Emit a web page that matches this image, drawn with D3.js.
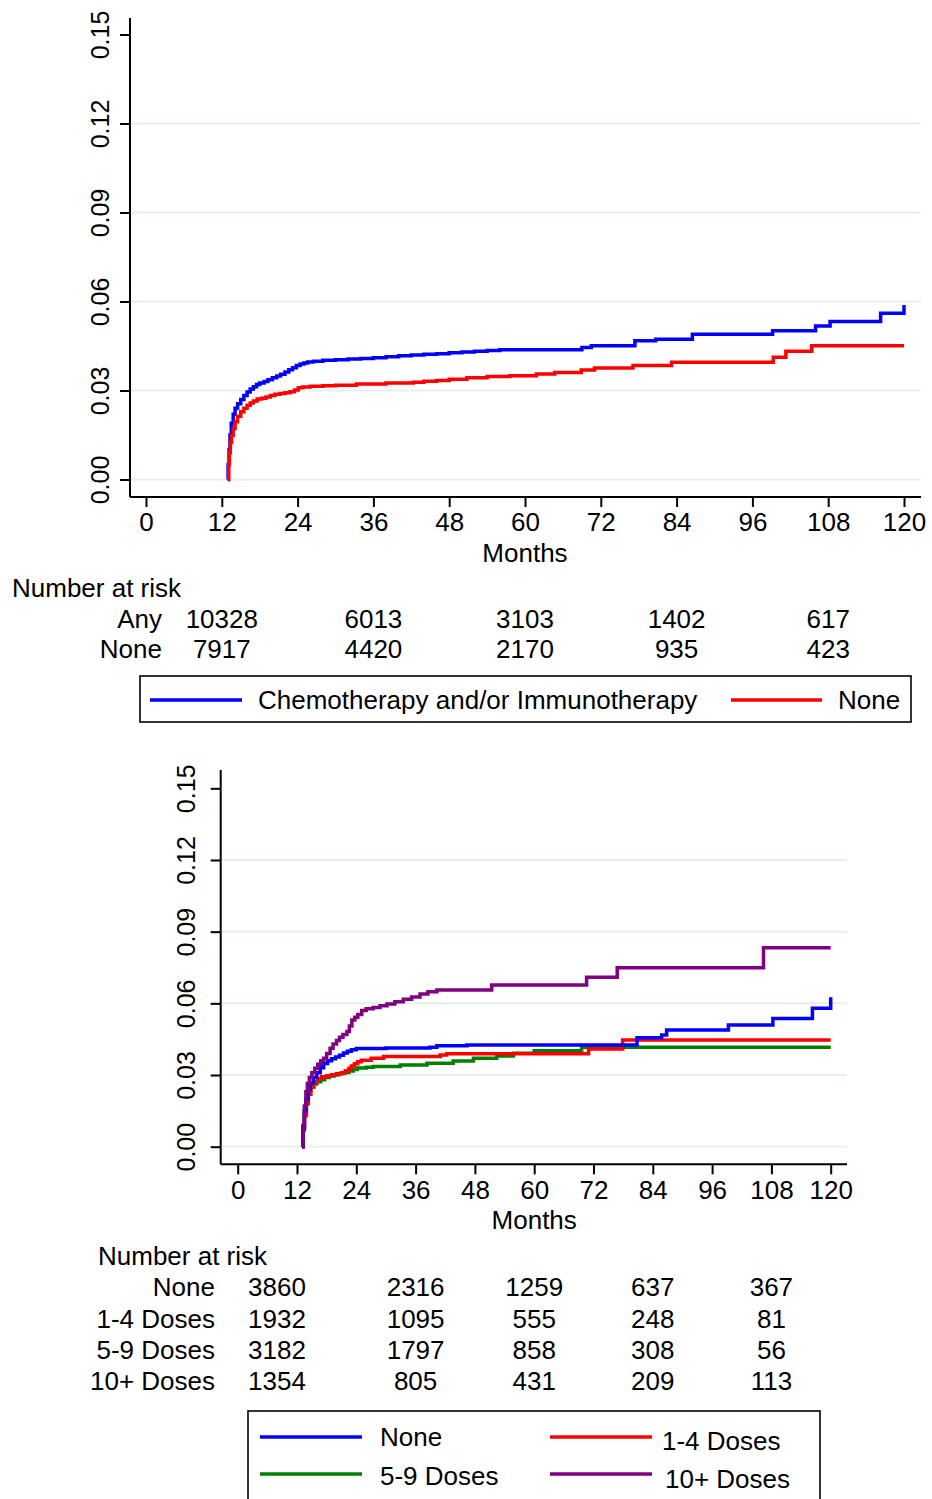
<!DOCTYPE html>
<html>
<head>
<meta charset="utf-8">
<script src="https://cdn.jsdelivr.net/npm/d3@7"></script>
<style>
  body { margin: 0; background: #fff; }
  svg text { font-family: "Liberation Sans", Arial, Helvetica, sans-serif; fill: #000; }
</style>
</head>
<body>
<div id="viz"></div>
<script>
// ---- data ----
var yTicks = [0, 0.03, 0.06, 0.09, 0.12, 0.15];
var xTicks = [0, 12, 24, 36, 48, 60, 72, 84, 96, 108, 120];
var riskMonths = [12, 36, 60, 84, 108];

// panel A : any treatment vs none
var anyCurve = [[12.9,0],[13.0,0.005],[13.15,0.01],[13.3,0.015],[13.5,0.019],[13.8,0.022],[14.1,0.024],[14.5,0.0255],
  [15,0.027],[15.5,0.0283],[16,0.0295],[16.5,0.0305],[17,0.0313],[17.5,0.032],[18,0.0325],[18.7,0.033],[19.3,0.0336],
  [20,0.0343],[20.7,0.0349],[21.3,0.0355],[22,0.0362],[22.6,0.037],[23.2,0.0377],[23.8,0.0384],[24.4,0.0389],
  [25,0.0393],[25.6,0.0396],[26.5,0.0399],[28,0.0402],[30,0.0404],[32,0.0406],[34,0.0408],[36,0.041],[38,0.0414],
  [40,0.0417],[42,0.042],[44,0.0422],[46,0.0424],[48,0.0427],[50,0.043],[52,0.0432],[54,0.0435],[56,0.0437],
  [69,0.0445],[70.5,0.0451],[77.4,0.0468],[80.7,0.0473],[86.5,0.049],[99.2,0.0501],[106,0.0517],[108.3,0.0533],
  [116.3,0.056],[120,0.0588]];
var noneCurveA = [[13,0],[13.1,0.005],[13.2,0.009],[13.35,0.0125],[13.55,0.0148],[13.8,0.0172],[14.1,0.0195],
  [14.5,0.0213],[15,0.0228],[15.5,0.024],[16,0.025],[16.5,0.0258],[17,0.0265],[17.6,0.0271],[18.3,0.0274],
  [19,0.0278],[19.7,0.0283],[20.4,0.0287],[21.2,0.029],[22,0.0292],[22.8,0.0296],[23.5,0.0302],[24.1,0.0309],
  [24.8,0.0312],[26,0.0314],[28,0.0316],[30,0.0318],[33.3,0.0322],[38,0.0325],[42.3,0.0328],[44,0.0331],[46,0.0334],
  [48,0.0338],[50.8,0.0343],[54,0.0347],[57.6,0.035],[61.8,0.0356],[64.7,0.0361],[68.9,0.0369],[71,0.0376],
  [77.1,0.0384],[83.2,0.0395],[99.3,0.0412],[101.3,0.0432],[105.4,0.0451],[120,0.0451]];
var riskLabelsA = ["Any", "None"];
var riskAny = [10328, 6013, 3103, 1402, 617];
var riskNoneA = [7917, 4420, 2170, 935, 423];

// panel B : by number of doses
var noneCurveB = [[13,0],[13.2,0.008],[13.5,0.015],[13.8,0.02],[14.2,0.024],[14.7,0.0268],[15.3,0.029],[16,0.031],
  [16.7,0.033],[17.4,0.0348],[18.2,0.036],[19,0.0368],[19.8,0.0375],[20.6,0.0383],[21.4,0.0392],[22.2,0.04],
  [23,0.0406],[24,0.0411],[30,0.0413],[38.9,0.0416],[40.3,0.0422],[46.4,0.0426],[80.8,0.0456],[85.8,0.0468],
  [86.8,0.0488],[99.3,0.0509],[108.3,0.0537],[116.3,0.0579],[120,0.0625]];
var dose14Curve = [[13,0],[13.2,0.007],[13.5,0.013],[13.9,0.018],[14.3,0.022],[14.8,0.025],[15.4,0.0272],[16.2,0.0285],
  [17,0.0293],[18,0.0297],[19,0.0301],[20,0.0305],[21,0.031],[21.8,0.0318],[22.5,0.0328],[23,0.0338],[23.6,0.0347],
  [24.3,0.0356],[25,0.0362],[27,0.037],[29.5,0.0377],[41,0.0384],[42.3,0.0389],[71,0.0409],[77.9,0.0447],[120,0.0447]];
var dose59Curve = [[13,0],[13.2,0.008],[13.5,0.015],[13.9,0.02],[14.3,0.0235],[14.8,0.025],[15.4,0.0262],[16,0.0272],
  [16.8,0.028],[17.6,0.029],[18.5,0.0296],[19.5,0.0301],[20.5,0.0306],[21.5,0.0311],[22.5,0.0317],[23.4,0.0323],
  [24.2,0.0329],[26,0.0333],[27.4,0.0336],[32.9,0.0342],[38.3,0.0349],[43.6,0.0359],[47.7,0.037],[52.4,0.038],
  [55.8,0.0391],[60,0.0402],[69.6,0.0416],[120,0.0416]];
var dose10Curve = [[13,0],[13.2,0.009],[13.5,0.017],[13.8,0.023],[14.1,0.0265],[14.5,0.029],[15,0.031],[15.6,0.0328],
  [16.2,0.0345],[16.8,0.036],[17.4,0.037],[18,0.039],[18.7,0.0412],[19.3,0.043],[20,0.0445],[20.6,0.0458],[21.3,0.047],
  [22.1,0.0482],[22.6,0.0505],[23.1,0.053],[23.7,0.0542],[24.3,0.0553],[25.1,0.057],[26,0.0577],[27.4,0.0583],
  [28.8,0.059],[30.2,0.0597],[31.8,0.0607],[33.5,0.0617],[35.2,0.0627],[36.9,0.0639],[38.5,0.0648],[40.3,0.0656],
  [51.4,0.0677],[70.6,0.0709],[76.8,0.0749],[106.4,0.0833],[120,0.0833]];
var riskLabelsB = ["None", "1-4 Doses", "5-9 Doses", "10+ Doses"];
var riskNoneB = [3860, 2316, 1259, 637, 367];
var risk14 = [1932, 1095, 555, 248, 81];
var risk59 = [3182, 1797, 858, 308, 56];
var risk10 = [1354, 805, 431, 209, 113];

var BLUE = "#0000ff", RED = "#ff0000", GREEN = "#008000", PURPLE = "#800080";

var svg = d3.select("#viz").append("svg")
  .attr("width", 932).attr("height", 1499);

function panel(cfg) {
  var x = d3.scaleLinear().domain([0, 120]).range([cfg.x0, cfg.x1]);
  var y = d3.scaleLinear().domain([0, 0.15]).range([cfg.y0, cfg.y1]);
  var g = svg.append("g");

  // grid
  g.selectAll(".grid").data(yTicks.filter(function(d) { return d < 0.15; }))
    .enter().append("line")
    .attr("x1", cfg.axisX).attr("x2", cfg.right)
    .attr("y1", function(d) { return y(d); }).attr("y2", function(d) { return y(d); })
    .attr("stroke", "#e6eef2").attr("stroke-width", 2);

  // y axis
  var ya = g.append("g").attr("transform", "translate(" + cfg.axisX + ",0)")
    .call(d3.axisLeft(y).tickValues(yTicks).tickFormat(d3.format(".2f")).tickSize(10).tickSizeOuter(0));
  ya.select(".domain").attr("d", "M0," + cfg.axisTop + "V" + cfg.axisY);
  ya.selectAll(".tick text").attr("x", null).attr("dy", null).attr("y", 0)
    .attr("transform", "translate(" + (cfg.ylabX - cfg.axisX) + ",0) rotate(-90)")
    .attr("text-anchor", "middle").attr("dominant-baseline", "central")
    .style("font-size", "25px").style("font-family", "Liberation Sans, Arial, sans-serif");

  // x axis
  var xa = g.append("g").attr("transform", "translate(0," + cfg.axisY + ")")
    .call(d3.axisBottom(x).tickValues(xTicks).tickSize(10).tickSizeOuter(0).tickPadding(6));
  xa.select(".domain").attr("d", "M" + cfg.axisX + ",0H" + cfg.right);
  xa.selectAll("text").style("font-size", "26px").style("font-family", "Liberation Sans, Arial, sans-serif");
  g.selectAll(".domain, .tick line").attr("stroke", "#000").attr("stroke-width", 2);

  g.append("text").attr("x", x(60)).attr("y", cfg.axisY + 65)
    .attr("text-anchor", "middle").style("font-size", "26px").text("Months");

  // curves
  var line = d3.line().x(function(d) { return x(d[0]); }).y(function(d) { return y(d[1]); })
    .curve(d3.curveStepAfter);
  cfg.curves.forEach(function(c) {
    g.append("path").datum(c.data).attr("d", line)
      .attr("fill", "none").attr("stroke", c.color).attr("stroke-width", 3.5);
  });

  // number at risk table
  g.append("text").attr("x", cfg.riskTitleX).attr("y", cfg.riskTop)
    .style("font-size", "26px").text("Number at risk");
  cfg.risk.forEach(function(r, i) {
    var by = cfg.riskTop + cfg.rowGap * (i + 1);
    g.append("text").attr("x", cfg.riskLabelX).attr("y", by)
      .attr("text-anchor", "end").style("font-size", "26px").text(r.label);
    g.selectAll(null).data(r.values).enter().append("text")
      .attr("x", function(d, j) { return x(riskMonths[j]) + (j === 0 ? cfg.firstShift : 0); })
      .attr("y", by).attr("text-anchor", "middle").style("font-size", "26px")
      .text(function(d) { return d; });
  });
  return g;
}

panel({
  x0: 146, x1: 904, y0: 479.5, y1: 34.5, axisX: 130, axisY: 497, axisTop: 18, right: 921, ylabX: 100,
  curves: [{data: anyCurve, color: BLUE}, {data: noneCurveA, color: RED}],
  riskTitleX: 12, riskTop: 597, riskLabelX: 162, rowGap: 30.5, firstShift: 0,
  risk: [{label: riskLabelsA[0], values: riskAny}, {label: riskLabelsA[1], values: riskNoneA}]
});

panel({
  x0: 237.7, x1: 830.7, y0: 1146.7, y1: 788.3, axisX: 220.7, axisY: 1164.3, axisTop: 770, right: 847, ylabX: 186,
  curves: [{data: dose59Curve, color: GREEN}, {data: dose14Curve, color: RED},
           {data: noneCurveB, color: BLUE}, {data: dose10Curve, color: PURPLE}],
  riskTitleX: 98, riskTop: 1265, riskLabelX: 215, rowGap: 31.3, firstShift: -20,
  risk: [{label: riskLabelsB[0], values: riskNoneB}, {label: riskLabelsB[1], values: risk14},
         {label: riskLabelsB[2], values: risk59}, {label: riskLabelsB[3], values: risk10}]
});

// legends
function legend(box, items) {
  var lg = svg.append("g");
  lg.append("rect").attr("x", box.x).attr("y", box.y).attr("width", box.w).attr("height", box.h)
    .attr("fill", "none").attr("stroke", "#000").attr("stroke-width", 1.6);
  items.forEach(function(it) {
    lg.append("line").attr("x1", it.lx).attr("x2", it.lx + it.len).attr("y1", it.ly).attr("y2", it.ly)
      .attr("stroke", it.color).attr("stroke-width", 3.5);
    lg.append("text").attr("x", it.tx).attr("y", it.ty).style("font-size", "26px").text(it.text);
  });
}

legend({x: 140, y: 676, w: 771, h: 46}, [
  {lx: 150, ly: 700, len: 92, color: BLUE, tx: 258, ty: 709, text: "Chemotherapy and/or Immunotherapy"},
  {lx: 731, ly: 700, len: 91, color: RED, tx: 838, ty: 709, text: "None"}
]);

legend({x: 248, y: 1411, w: 572, h: 100}, [
  {lx: 260, ly: 1437, len: 102, color: BLUE, tx: 380, ty: 1446, text: riskLabelsB[0]},
  {lx: 550, ly: 1437, len: 102, color: RED, tx: 662, ty: 1450, text: riskLabelsB[1]},
  {lx: 260, ly: 1474, len: 102, color: GREEN, tx: 380, ty: 1485, text: riskLabelsB[2]},
  {lx: 550, ly: 1474, len: 102, color: PURPLE, tx: 665, ty: 1488, text: riskLabelsB[3]}
]);
</script>
</body>
</html>
